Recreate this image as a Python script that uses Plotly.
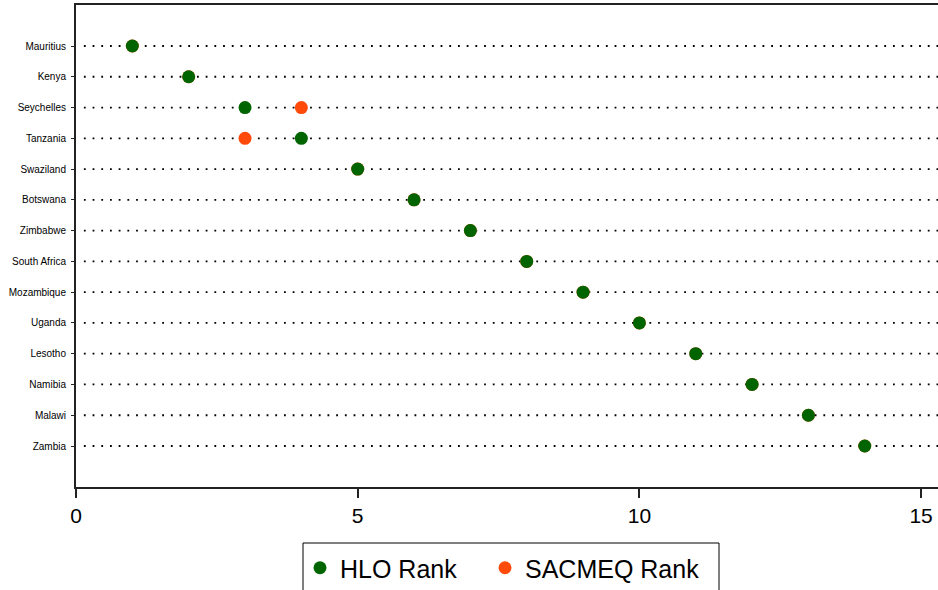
import plotly.graph_objects as go

countries = ["Mauritius", "Kenya", "Seychelles", "Tanzania", "Swaziland", "Botswana",
             "Zimbabwe", "South Africa", "Mozambique", "Uganda", "Lesotho", "Namibia",
             "Malawi", "Zambia"]
hlo_rank = [1, 2, 3, 4, 5, 6, 7, 8, 9, 10, 11, 12, 13, 14]
sacmeq_rank = [1, 2, 4, 3, 5, 6, 7, 8, 9, 10, 11, 12, 13, 14]
x_ticks = [0, 5, 10, 15]

GREEN = "#006400"
ORANGE = "#ff4a0a"
FONT = "Liberation Sans, Arial, Helvetica, sans-serif"

X_MAX = 15.30
fig = go.Figure()

# dotted guide lines for each country
lx, ly = [], []
for c in countries:
    lx += [0.14, X_MAX + 1, None]
    ly += [c, c, None]
fig.add_trace(go.Scatter(x=lx, y=ly, mode="lines",
                         line=dict(color="black", width=1.8, dash="1.8px,6.9px"),
                         showlegend=False, hoverinfo="skip"))

fig.add_trace(go.Scatter(x=sacmeq_rank, y=countries, mode="markers", name="SACMEQ Rank",
                         marker=dict(color=ORANGE, size=13, line=dict(width=0)),
                         legend="legend2"))
fig.add_trace(go.Scatter(x=hlo_rank, y=countries, mode="markers", name="HLO Rank",
                         marker=dict(color=GREEN, size=13, line=dict(width=0)),
                         legend="legend"))

W, H = 938, 590
L, R, T, B = 76, 0, 5, 103
pw, ph = W - L - R, H - T - B

def px_x(p):
    return (p - L) / pw

def px_y(p):
    return (H - B - p) / ph

n = len(countries)
pad = 41 / (400 / (n - 1))

leg_common = dict(orientation="h", xanchor="left", y=px_y(568), yanchor="middle",
                  font=dict(size=25, family=FONT), bgcolor="rgba(0,0,0,0)",
                  borderwidth=0, itemsizing="trace")

fig.update_layout(
    width=W, height=H,
    margin=dict(l=L, r=R, t=T, b=B, autoexpand=False),
    plot_bgcolor="white", paper_bgcolor="white",
    font=dict(family=FONT, color="black"),
    xaxis=dict(range=[0, X_MAX], tickvals=x_ticks, ticktext=[str(v) for v in x_ticks],
               showgrid=False, zeroline=False, showline=True, linecolor="#222",
               linewidth=2, mirror=True, ticks="outside", ticklen=9, tickwidth=1.5,
               tickcolor="#222", tickfont=dict(size=21, family=FONT)),
    yaxis=dict(type="category", categoryarray=countries,
               range=[n - 1 + pad, -pad],
               showgrid=False, zeroline=False, showline=True, linecolor="#222",
               linewidth=2, ticks="outside", ticklen=3, tickwidth=1, tickcolor="#222",
               ticklabelstandoff=3, tickfont=dict(size=10, family=FONT)),
    legend=dict(x=px_x(300), **leg_common),
    legend2=dict(x=px_x(485), **leg_common),
    shapes=[dict(type="rect", xref="paper", yref="paper",
                 x0=px_x(303), x1=px_x(719), y0=px_y(543), y1=px_y(620),
                 line=dict(color="black", width=1), fillcolor="rgba(0,0,0,0)")],
    showlegend=True,
)

fig.write_html("out.html", config={"displayModeBar": False},
               post_script="document.body.style.margin='0';")
